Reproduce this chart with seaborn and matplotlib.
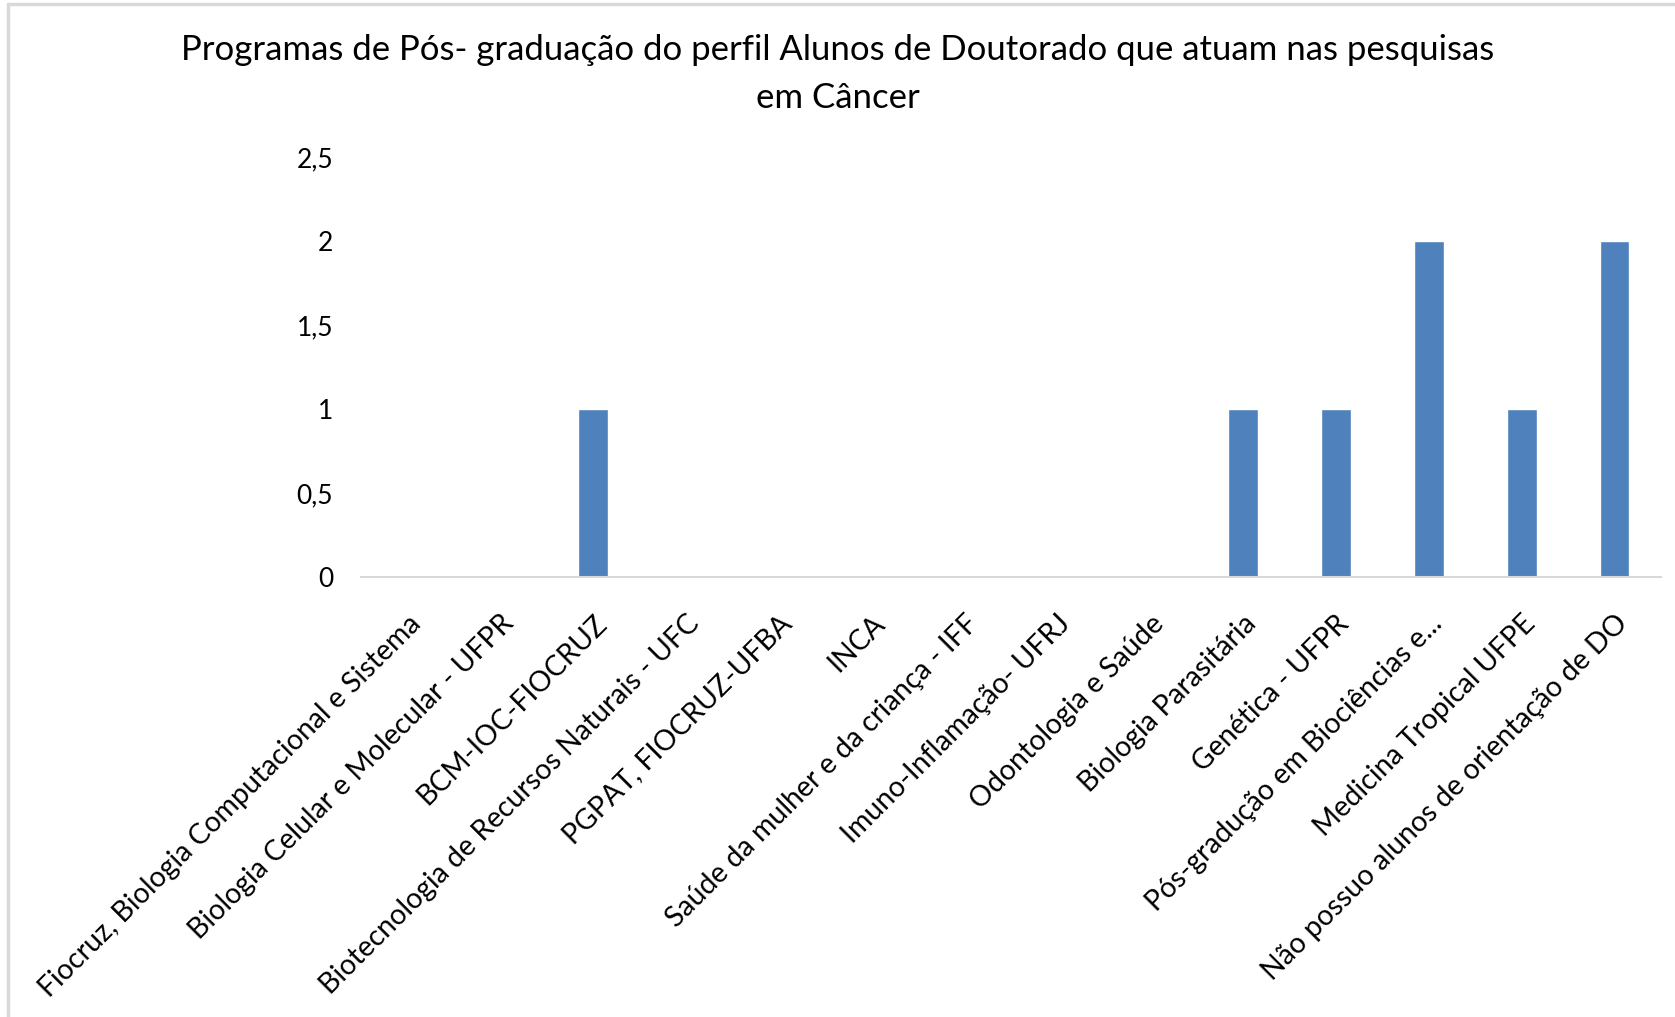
import matplotlib
matplotlib.use("Agg")
import matplotlib.pyplot as plt
from matplotlib.lines import Line2D
import seaborn as sns
import pandas as pd

# Chart data
programs = [
    "Fiocruz, Biologia Computacional e Sistema",
    "Biologia Celular e Molecular - UFPR",
    "BCM-IOC-FIOCRUZ",
    "Biotecnologia de Recursos Naturais - UFC",
    "PGPAT, FIOCRUZ-UFBA",
    "INCA",
    "Saúde da mulher e da criança - IFF",
    "Imuno-Inflamação- UFRJ",
    "Odontologia e Saúde",
    "Biologia Parasitária",
    "Genética - UFPR",
    "Pós-gradução em Biociências e...",
    "Medicina Tropical UFPE",
    "Não possuo alunos de orientação de DO",
]
counts = [0, 0, 1, 0, 0, 0, 0, 0, 0, 1, 1, 2, 1, 2]
y_ticks = [0, 0.5, 1, 1.5, 2, 2.5]
y_tick_labels = ["0", "0,5", "1", "1,5", "2", "2,5"]

df = pd.DataFrame({"Programa": programs, "Alunos": counts})

sns.set_theme(style="white")
plt.rcParams["font.family"] = ["Lato", "DejaVu Sans"]

fig = plt.figure(figsize=(16.75, 10.17), dpi=100)
ax = fig.add_axes([0.2155, 0.4326, 0.7761, 0.413])

sns.barplot(data=df, x="Programa", y="Alunos", color="#4F81BD", width=0.32,
            saturation=1, ax=ax)

ax.set_ylim(0, 2.5)
ax.set_xlim(-0.5, len(programs) - 0.5)
ax.set_yticks(y_ticks)
ax.set_yticklabels(y_tick_labels, fontsize=19, color="#000000")
ax.tick_params(axis="y", length=0, pad=20)
ax.tick_params(axis="x", length=0, pad=24)
ax.set_xticks(range(len(programs)))
ax.set_xticklabels(programs, rotation=45, ha="right", rotation_mode="anchor",
                   fontsize=20.4, color="#000000")
ax.set_xlabel("")
ax.set_ylabel("")
for side in ["top", "right", "left"]:
    ax.spines[side].set_visible(False)
ax.spines["bottom"].set_color("#d9d9d9")
ax.spines["bottom"].set_linewidth(1.5)

# light frame on the left and top edges (as in the cropped screenshot)
fig.add_artist(Line2D([0.0048, 0.0048], [0, 0.9961], transform=fig.transFigure,
                      color="#d9d9d9", linewidth=2.5))
fig.add_artist(Line2D([0.0048, 1], [0.9961, 0.9961], transform=fig.transFigure,
                      color="#d9d9d9", linewidth=2.5))

fig.text(0.5, 0.951, "Programas de Pós- graduação do perfil Alunos de Doutorado que atuam nas pesquisas",
         ha="center", va="center", fontsize=25, color="#000000")
fig.text(0.5, 0.904, "em Câncer", ha="center", va="center", fontsize=25, color="#000000")

fig.savefig("out.png", dpi=100)
